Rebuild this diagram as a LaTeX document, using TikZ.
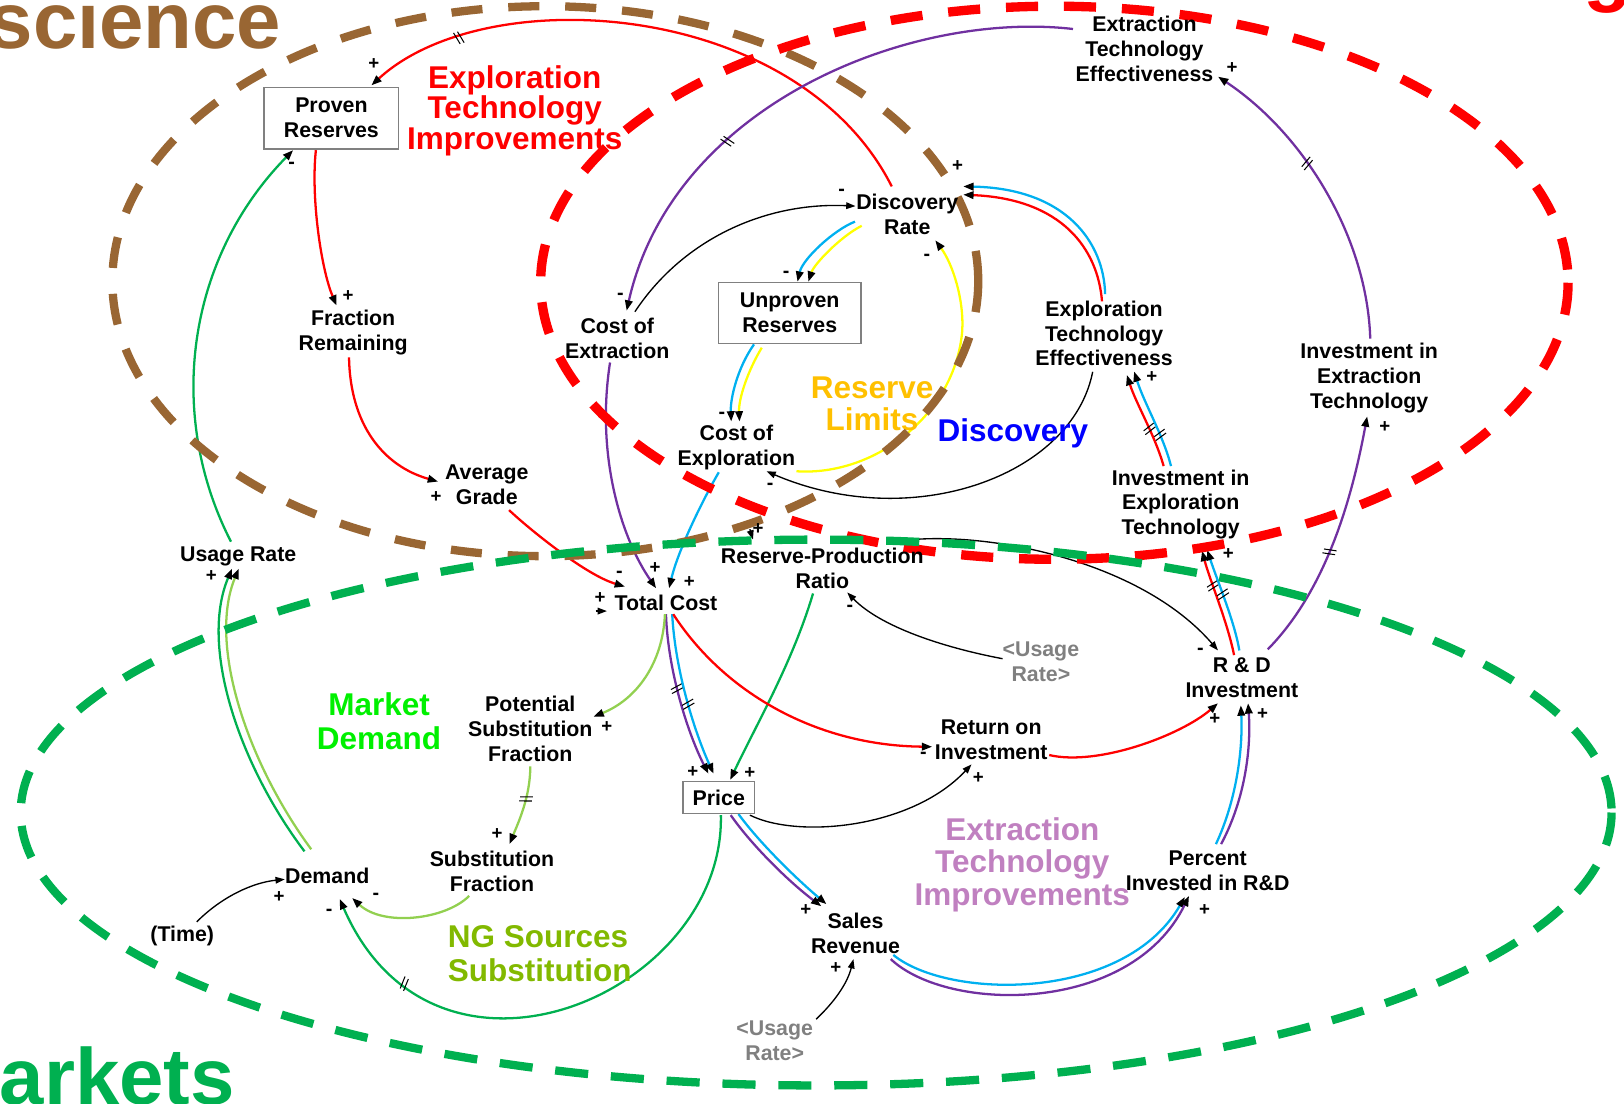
\documentclass[tikz,border=0pt]{standalone}
\usepackage{fontspec}
\setmainfont{Liberation Sans}
\usetikzlibrary{arrows.meta,decorations.markings,calc}
\definecolor{brownC}{RGB}{153,102,51}
\definecolor{redC}{RGB}{255,0,0}
\definecolor{greenC}{RGB}{0,176,80}
\definecolor{purpleC}{RGB}{112,48,160}
\definecolor{cyanC}{RGB}{0,176,240}
\definecolor{yellowC}{RGB}{255,255,0}
\definecolor{lgreenC}{RGB}{146,208,80}
\definecolor{mdC}{RGB}{0,240,0}
\definecolor{ngC}{RGB}{130,185,0}
\definecolor{orchidC}{RGB}{192,128,192}
\definecolor{goldC}{RGB}{255,192,0}
\definecolor{blueC}{RGB}{0,0,255}
\definecolor{grayT}{RGB}{128,128,128}
\pgfdeclarelayer{bg}
\pgfdeclarelayer{mid}
\pgfsetlayers{bg,mid,main}
\begin{document}
\begin{tikzpicture}[x=0.5pt,y=-0.5pt,
  lblt/.style={font=\fontsize{10.3}{12}\selectfont\bfseries, align=center, inner sep=0pt},
  boxn/.style={lblt, draw=grayT, line width=0.6pt},
  bigt/.style={font=\fontsize{15.2}{15.5}\selectfont\bfseries, align=center, inner sep=0pt},
  ttl/.style={font=\fontsize{38.5}{40}\selectfont\bfseries, inner sep=0pt},
  sgp/.style={font=\fontsize{9}{9}\selectfont\bfseries, inner sep=0pt},
  sgm/.style={font=\fontsize{9.5}{9}\selectfont\bfseries, inner sep=0pt},
  cl/.style={line width=1.1pt, -{Triangle[length=5pt,width=3.6pt,color=black]}},
  bl/.style={black, line width=0.65pt, -{Triangle[length=4.5pt,width=3.2pt]}},
  dly/.style={postaction={decorate,decoration={markings,mark=at position #1 with {\draw[black,line width=0.5pt,-] (-3,-6)--(0,6) (1,-6)--(4,6);}}}}
]
\useasboundingbox (0,0) rectangle (1568,1065);

% ---------- nodes ----------
\node[boxn, minimum width=65pt, minimum height=29.75pt] (pr) at (320,114) {Proven\\Reserves};
\node[lblt] (fr) at (341,321) {Fraction\\Remaining};
\node[lblt] (ag) at (470,468) {Average\\Grade};
\node[lblt] (ugr) at (230,537) {Usage Rate};
\node[lblt] (ce) at (596,327) {Cost of\\Extraction};
\node[boxn, minimum width=68.85pt, minimum height=29.5pt] (ur) at (762.5,302) {Unproven\\Reserves};
\node[lblt] (dr) at (876,207) {Discovery\\Rate};
\node[lblt] (cx) at (711,432) {Cost of\\Exploration};
\node[lblt] (ete) at (1105,47) {Extraction\\Technology\\Effectiveness};
\node[lblt] (xte) at (1066,322) {Exploration\\Technology\\Effectiveness};
\node[lblt] (iext) at (1322,365) {Investment in\\Extraction\\Technology};
\node[lblt] (iet) at (1140,487) {Investment in\\Exploration\\Technology};
\node[lblt] (rpr) at (794,549) {Reserve-Production\\Ratio};
\node[lblt] (tc) at (643,582) {Total Cost};
\node[lblt] (rd) at (1199,654) {R \& D\\Investment};
\node[lblt] (psf) at (512,704) {Potential\\Substitution\\Fraction};
\node[lblt] (roi) at (957,714) {Return on\\Investment};
\node[boxn, minimum width=34.5pt, minimum height=15.65pt] (pc) at (694,770) {Price};
\node[lblt] (sf) at (475,841) {Substitution\\Fraction};
\node[lblt] (dm) at (316,846) {Demand};
\node[lblt] (tm) at (176,904) {(Time)};
\node[lblt] (sr) at (826,901) {Sales\\Revenue};
\node[lblt] (pir) at (1166,841) {Percent\\Invested in R\&D};
\node[lblt, text=grayT] (ug1) at (1005,639) {<Usage\\Rate>};
\node[lblt, text=grayT] (ug2) at (748,1005) {<Usage\\Rate>};

% ---------- signs ----------
\node[sgp] (s1) at (336,286) {+};
\node[sgp] (s2) at (421,480) {+};
\node[sgm] (s3) at (598,555) {-};
\node[sgp] (s4) at (361,62) {+};
\node[sgm] (s5) at (599,286) {-};
\node[sgp] (s6) at (632.5,548) {+};
\node[sgp] (s7) at (665.5,562) {+};
\node[sgm] (s8) at (759,265) {-};
\node[sgm] (s9) at (697,401) {-};
\node[sgm] (s10) at (895,248.5) {-};
\node[sgp] (s11) at (924.6,160.4) {+};
\node[sgp] (s12) at (1112,364) {+};
\node[sgp] (s13) at (1186,534.5) {+};
\node[sgp] (s14) at (1337,412) {+};
\node[sgp] (s15) at (1189.5,65.5) {+};
\node[sgp] (s16) at (669,745) {+};
\node[sgp] (s17) at (724,746.7) {+};
\node[sgp] (s18) at (586,702) {+};
\node[sgp] (s19) at (480,805) {+};
\node[sgm] (s20) at (363,865.6) {-};
\node[sgm] (s21) at (317.7,881) {-};
\node[sgp] (s22) at (204,556) {+};
\node[sgm] (s23) at (281.7,159.3) {-};
\node[sgm] (s24) at (891.5,729) {-};
\node[sgp] (s25) at (1173,694.7) {+};
\node[sgp] (s26) at (778,879) {+};
\node[sgp] (s27) at (1163,878.4) {+};
\node[sgp] (s28) at (1219,689.4) {+};
\node[sgm] (s29) at (812.6,185.7) {-};
\node[sgm] (s30) at (743.5,470) {-};
\node[sgm] (s31) at (1159,628.8) {-};
\node[sgm] (s32) at (820.6,587.2) {-};
\node[sgp] (s33) at (944.6,751.5) {+};
\node[sgp] (s34) at (269.4,866.4) {+};
\node[sgp] (s35) at (807,935) {+};
\node[sgp] (s36) at (732,511) {+};
\node[sgp] (s37) at (579.3,577.7) {+};

\coordinate (rpin) at (724,511);
\coordinate (tcin) at (575,590);

% ---------- connectors ----------
\begin{pgfonlayer}{bg}
\draw[cl, redC] ($(pr)+(-15,31)$) .. controls (300,190) and (310,260) .. ($(fr)+(-16,-26)$);
\draw[cl, redC] ($(fr)+(-4,24)$) .. controls (338,410) and (370,450) .. ($(ag)+(-47,-3)$);
\draw[cl, redC] ($(ag)+(21.5,24.5)$) .. controls (510,510) and (565,555) .. ($(tc)+(-39.5,-15.6)$);
\draw[cl, redC, dly=0.83] ($(dr)+(-15,-27)$) .. controls (770,0) and (470,-20) .. ($(pr)+(38.6,-31.6)$);
\draw[cl, purpleC, dly=0.65] ($(ete)+(-69,-19)$) .. controls (880,10) and (650,100) .. ($(ce)+(9,-27)$);
\draw[cl, purpleC] ($(ce)+(-7,23)$) .. controls (575,440) and (600,520) .. ($(tc)+(-9.5,-14)$);
\draw[cl, cyanC] ($(cx)+(-17,24)$) .. controls (680,480) and (655,530) .. ($(tc)+(3,-14)$);
\draw[cl, cyanC] ($(dr)+(-50.5,7)$) .. controls (805,222) and (775,250) .. ($(ur)+(7.5,-30)$);
\draw[cl, yellowC] ($(dr)+(-44,11)$) .. controls (812,228) and (786,255) .. ($(ur)+(18,-30)$);
\draw[cl, cyanC] ($(ur)+(-34.5,30.5)$) .. controls (712,355) and (705,385) .. ($(cx)+(-5,-25)$);
\draw[cl, yellowC] ($(ur)+(-27,33.7)$) .. controls (722,358) and (713,385) .. ($(cx)+(3,-25)$);
\draw[cl, yellowC] ($(cx)+(58,23)$) .. controls (845,460) and (922,400) .. (929,320) .. controls (931,290) and (920,255) .. ($(dr)+(27,25)$);
\draw[cl, cyanC] ($(xte)+(1,-38)$) .. controls (1066,235) and (1030,182) .. ($(dr)+(54,-27)$);
\draw[cl, redC] ($(xte)+(-2,-31)$) .. controls (1060,240) and (1025,192) .. ($(dr)+(54,-19)$);
\draw[cl, redC, dly=0.4] ($(iet)+(-16.5,-37)$) .. controls (1115,420) and (1097,390) .. ($(xte)+(22,40)$);
\draw[cl, cyanC, dly=0.32] ($(iet)+(-9.4,-37)$) .. controls (1123,420) and (1105,390) .. ($(xte)+(29,36.6)$);
\draw[cl, redC, dly=0.66] ($(rd)+(-7.5,-21.5)$) .. controls (1185,600) and (1168,560) .. ($(iet)+(20.6,44.8)$);
\draw[cl, cyanC, dly=0.55] ($(rd)+(-2.4,-26)$) .. controls (1192,600) and (1175,560) .. ($(iet)+(25.6,44)$);
\draw[cl, purpleC, dly=0.45] ($(rd)+(25,-27)$) .. controls (1280,570) and (1305,483) .. ($(iext)+(-2,37)$);
\draw[cl, purpleC, dly=0.6] ($(iext)+(1,-38)$) .. controls (1320,230) and (1260,130) .. ($(ete)+(71,27)$);
\draw[cl, purpleC, dly=0.45] ($(tc)+(0,11)$) .. controls (645,650) and (665,710) .. ($(pc)+(-10,-23)$);
\draw[cl, cyanC, dly=0.55] ($(tc)+(6,11)$) .. controls (652,650) and (672,710) .. ($(pc)+(-5,-23)$);
\draw[cl, greenC] ($(rpr)+(-9,24)$) .. controls (765,640) and (730,700) .. ($(pc)+(11,-17)$);
\draw[cl, lgreenC] ($(tc)+(-1,11)$) .. controls (640,640) and (615,675) .. ($(psf)+(61,-12)$);
\draw[cl, lgreenC, dly=0.4] ($(psf)+(0,36)$) .. controls (512,770) and (500,795) .. ($(sf)+(17,-26)$);
\draw[cl, lgreenC] ($(sf)+(-22,24)$) .. controls (430,888) and (370,895) .. ($(dm)+(24,21)$);
\draw[cl, greenC, dly=0.8] ($(pc)+(2,17)$) .. controls (700,960) and (420,1080) .. ($(dm)+(12,22)$);
\draw[cl, greenC] ($(dm)+(-22,-24)$) .. controls (232,740) and (192,625) .. ($(ugr)+(-6,12)$);
\draw[cl, lgreenC] ($(dm)+(-15.5,-26)$) .. controls (240,738) and (200,623) .. ($(ugr)+(0.5,12)$);
\draw[cl, greenC] ($(ugr)+(-7,-14)$) .. controls (160,400) and (180,250) .. ($(pr)+(-37,31)$);
\draw[cl, redC] ($(tc)+(7,11)$) .. controls (700,670) and (790,720) .. ($(roi)+(-57,7)$);
\draw[cl, redC] ($(roi)+(56,15)$) .. controls (1060,740) and (1140,710) .. ($(rd)+(-23,25)$);
\draw[cl, purpleC] ($(pc)+(11.5,17)$) .. controls (725,815) and (760,850) .. ($(sr)+(-33,-26)$);
\draw[cl, cyanC] ($(pc)+(19,16)$) .. controls (732,812) and (766,846) .. ($(sr)+(-28,-28)$);
\draw[cl, cyanC] ($(sr)+(36.5,21)$) .. controls (915,965) and (1085,968) .. ($(pir)+(-22,25)$);
\draw[cl, purpleC] ($(sr)+(34,25)$) .. controls (915,978) and (1092,980) .. ($(pir)+(-18,24)$);
\draw[cl, cyanC] ($(pir)+(8,-26)$) .. controls (1195,770) and (1200,720) .. ($(rd)+(-1,27)$);
\draw[cl, purpleC] ($(pir)+(13,-26)$) .. controls (1203,770) and (1208,720) .. ($(rd)+(6,25)$);
% black links
\draw[bl] ($(ce)+(17,-26)$) .. controls (660,230) and (740,195) .. ($(dr)+(-50,-8)$);
\draw[bl] ($(xte)+(-11,37)$) .. controls (1035,460) and (880,515) .. ($(cx)+(29,23)$);
\draw[bl] ($(rpr)+(77,-27)$) .. controls (950,512) and (1100,540) .. ($(rd)+(-23,-26)$);
\draw[bl] ($(ug1)+(-37,-3)$) .. controls (910,625) and (850,605) .. ($(rpr)+(24,23)$);
\draw[bl] ($(pc)+(30,17)$) .. controls (770,810) and (880,800) .. ($(roi)+(-19,24)$);
\draw[bl] ($(tm)+(14,-14)$) .. controls (215,865) and (245,852) .. ($(dm)+(-41,3)$);
\draw[bl] ($(ug2)+(40,-21)$) .. controls (805,968) and (818,950) .. ($(sr)+(-2,25)$);
\draw[bl] (rpin) -- ($(rpr)+(-67,-28)$);
\draw[bl] (tcin) -- ($(tc)+(-57,8)$);
\end{pgfonlayer}

% ---------- loop labels, titles and dashed ellipses ----------
\begin{pgfonlayer}{mid}
\node[bigt, text=redC, font=\fontsize{15.2}{14.65}\selectfont\bfseries] (lExp) at (497,107) {Exploration\\Technology\\Improvements};
\node[bigt, text=goldC, font=\fontsize{15.2}{15.25}\selectfont\bfseries] (lRes) at (842,390) {Reserve\\Limits};
\node[bigt, text=blueC] (lDis) at (978,418) {Discovery};
\node[bigt, text=mdC, font=\fontsize{15.2}{16.5}\selectfont\bfseries] (lMkt) at (366,696) {Market\\Demand};
\node[bigt, text=ngC, align=left, anchor=west, font=\fontsize{15.2}{16.5}\selectfont\bfseries] (lNG) at (432,921) {NG Sources\\Substitution};
\node[bigt, text=orchidC, font=\fontsize{15.2}{15.7}\selectfont\bfseries] (lExt) at (987,835) {Extraction\\Technology\\Improvements};
\node[ttl, text=brownC, anchor=base east] (tSci) at (272,47) {science};
\node[ttl, text=greenC, anchor=base east] (tMkt) at (227,1066) {arkets};
\node[ttl, text=redC, anchor=base west] (tTec) at (1528,-3) {g};
\draw[brownC, line width=4pt, dash pattern=on 15pt off 12.5pt] (526.5,271.5) ellipse [x radius=418, y radius=265.5];
\draw[redC, line width=4.5pt, dash pattern=on 15.5pt off 12.5pt] (1018,273) ellipse [x radius=496, y radius=267];
\draw[greenC, line width=4pt, dash pattern=on 16pt off 11pt] (788,784.5) ellipse [x radius=768, y radius=263.5];
\end{pgfonlayer}
\end{tikzpicture}
\end{document}
